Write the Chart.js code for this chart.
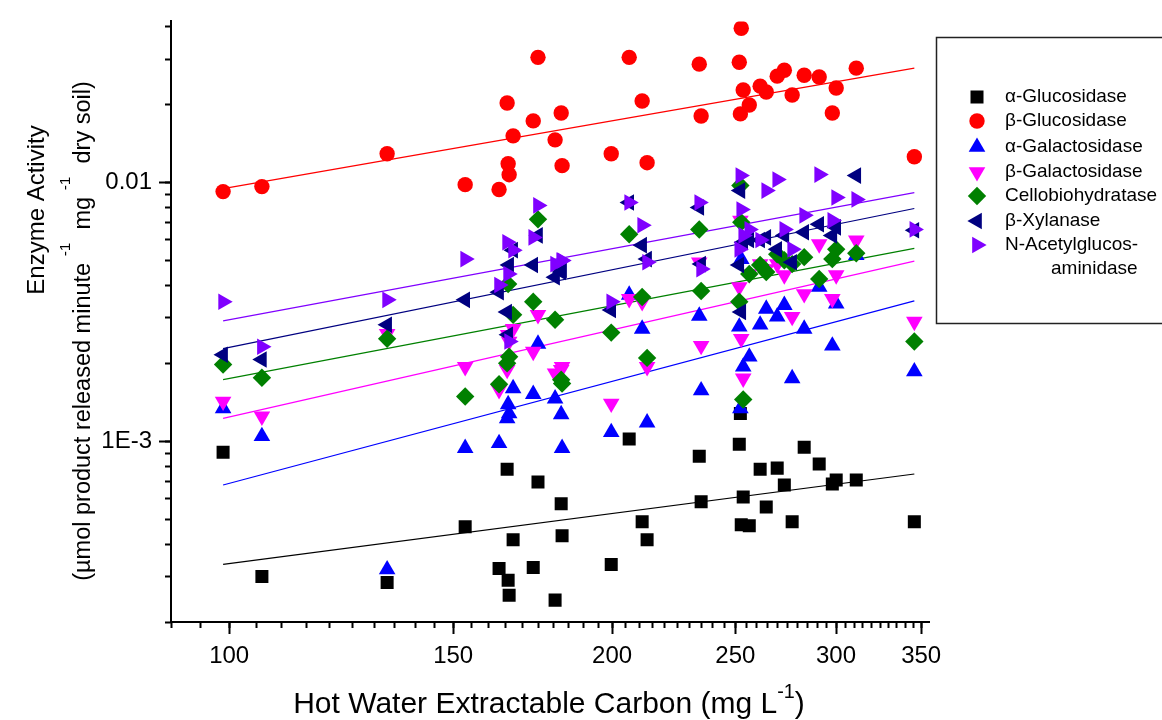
<!DOCTYPE html>
<html>
<head>
<meta charset="utf-8">
<script src="https://cdn.jsdelivr.net/npm/chart.js@4.4.1/dist/chart.umd.min.js"></script>
<style>
  html, body { margin: 0; padding: 0; background: #fff; }
  #wrap { width: 1162px; height: 720px; position: relative; }
</style>
</head>
<body>
<div id="wrap"><canvas id="Chart1"></canvas></div>
<script>
// hot water extractable carbon of each soil sample (mg L-1)
var hwec = [98.9, 106.1, 133.1, 153.3, 163.0, 165.4, 165.7, 166.0, 167.2, 173.4, 174.9, 180.4,
            182.4, 182.7, 199.7, 206.3, 211.2, 213.1, 234.2, 235.0, 251.8, 252.3, 252.7, 253.6,
            256.4, 261.5, 264.4, 269.7, 273.2, 277.1, 283.2, 291.0, 298.0, 300.1, 311.2, 345.7];

// enzyme activities, same sample order
var alphaGlucosidase = [0.000907, 0.000300, 0.000284, 0.000467, 0.000322, 0.000780, 0.000290, 0.000254, 0.000416,
                        0.000325, 0.000695, 0.000243, 0.000573, 0.000431, 0.000334, 0.00102, 0.000488, 0.000416,
                        0.000875, 0.000583, 0.000974, 0.00128, 0.000475, 0.000609, 0.000471, 0.000780, 0.000557,
                        0.000787, 0.000677, 0.000488, 0.000948, 0.000816, 0.000684, 0.000708, 0.000708, 0.000488];
var betaGlucosidase = [0.00923, 0.00965, 0.01292, 0.00982, 0.00940, 0.0203, 0.01183, 0.01073, 0.01516,
                       0.01732, 0.0305, 0.01463, 0.01858, 0.01163, 0.01292, 0.0305, 0.02067, 0.01194,
                       0.0287, 0.01810, 0.0292, 0.01843, 0.0395, 0.0228, 0.01995, 0.0236, 0.02239,
                       0.0258, 0.0272, 0.0218, 0.0260, 0.0256, 0.01858, 0.0232, 0.0277, 0.01259];
var alphaGalactosidase = [0.00134, 0.001045, 0.000319, 0.000940, 0.000982, 0.001226, 0.001388, 0.00128, 0.0016,
                          0.00152, 0.00238, 0.00146, 0.00127, 0.00094, 0.001083, 0.00368, 0.00272, 0.00118,
                          0.00305, 0.00157, 0.00277, 0.00134, 0.00506, 0.00194, 0.00212, 0.00282, 0.00325,
                          0.00303, 0.00336, 0.00175, 0.00272, 0.00395, 0.00234, 0.0034, 0.00524, 0.00186];
var betaGalactosidase = [0.001425, 0.001248, 0.0026, 0.00194, 0.00158, 0.00189, 0.00258, 0.00243, 0.00272,
                         0.00222, 0.00308, 0.00183, 0.00189, 0.00194, 0.0014, 0.00355, 0.00346, 0.00194,
                         0.00492, 0.00234, 0.00395, 0.00714, 0.00249, 0.00175, 0.00443, 0.00484, 0.00463,
                         0.00484, 0.00439, 0.00303, 0.00371, 0.00578, 0.00355, 0.00439, 0.00598, 0.0029];
var cellobiohydratase = [0.00198, 0.00176, 0.00249, 0.00149, 0.00166, 0.0020, 0.00405, 0.00212, 0.00308,
                         0.00346, 0.00721, 0.00295, 0.00173, 0.00167, 0.00263, 0.00631, 0.00361, 0.0021,
                         0.00659, 0.00381, 0.00346, 0.00974, 0.00702, 0.00145, 0.00443, 0.0048, 0.00451,
                         0.00528, 0.00501, 0.00484, 0.00515, 0.00424, 0.00506, 0.00552, 0.00533, 0.00243];
var betaXylanase = [0.00216, 0.00207, 0.00282, 0.00352, 0.00377, 0.00316, 0.00258, 0.0048, 0.00548,
                    0.0048, 0.00625, 0.00431, 0.00451, 0.00459, 0.00322, 0.00838, 0.00573, 0.00506,
                    0.00801, 0.00484, 0.0048, 0.00931, 0.00316, 0.00588, 0.0060, 0.0060, 0.00614,
                    0.00552, 0.00625, 0.00492, 0.00643, 0.0069, 0.00625, 0.00671, 0.01064, 0.00654];
var nAcetylglucosaminidase = [0.00346, 0.00232, 0.00352, 0.00506, 0.00402, 0.00588, 0.00443, 0.00243, 0.00548,
                              0.00614, 0.00816, 0.00484, 0.0050, 0.0050, 0.00346, 0.00838, 0.00684, 0.00492,
                              0.00838, 0.00463, 0.00552, 0.01064, 0.00787, 0.00625, 0.00659, 0.0060, 0.00931,
                              0.01027, 0.00659, 0.00552, 0.00747, 0.01074, 0.00714, 0.00876, 0.00861, 0.00659];

// power-law fit lines, value at first and last sample
var fitX = [98.9, 345.7];
var fitAlphaGlu = [0.000334, 0.000747];
var fitBetaGlu = [0.00948, 0.0277];
var fitAlphaGal = [0.000677, 0.00349];
var fitBetaGal = [0.001226, 0.00497];
var fitCello = [0.00173, 0.00557];
var fitXyl = [0.00228, 0.00794];
var fitNag = [0.00292, 0.00915];

var xTickLabels = [100, 150, 200, 250, 300, 350];
var yTickValues = [0.001, 0.01];
var yTickLabels = ['1E-3', '0.01'];

var FONT = "'Liberation Sans', Arial, sans-serif";

// minor tick positions
var xMinor = [];
for (var v = 90; v <= 350; v += 5) xMinor.push(v);
var yMinor = [];
[0.0001, 0.001, 0.01].forEach(function(d) {
    for (var m = 1; m <= 9; m++) {
        var t = m * d;
        if (t >= 0.0002 && t <= 0.042) yMinor.push(t);
    }
});

function pts(arr) {
    return hwec.map(function(x, i) { return {x: x, y: arr[i]}; });
}
function fitPts(arr) {
    return [{x: fitX[0], y: arr[0]}, {x: fitX[1], y: arr[1]}];
}

var series = [
    {label: '\u03b1-Glucosidase', data: alphaGlucosidase, fit: fitAlphaGlu, color: '#000000', style: 'rect', r: 9.2, rot: 0},
    {label: '\u03b2-Glucosidase', data: betaGlucosidase, fit: fitBetaGlu, color: '#ff0000', style: 'circle', r: 7.7, rot: 0},
    {label: '\u03b1-Galactosidase', data: alphaGalactosidase, fit: fitAlphaGal, color: '#0000ff', style: 'triangle', r: 9.6, rot: 0},
    {label: '\u03b2-Galactosidase', data: betaGalactosidase, fit: fitBetaGal, color: '#ff00ff', style: 'triangle', r: 9.6, rot: 180},
    {label: 'Cellobiohydratase', data: cellobiohydratase, fit: fitCello, color: '#008000', style: 'rectRot', r: 9.2, rot: 0},
    {label: '\u03b2-Xylanase', data: betaXylanase, fit: fitXyl, color: '#000080', style: 'triangle', r: 9.6, rot: 270},
    {label: 'N-Acetylglucos-', data: nAcetylglucosaminidase, fit: fitNag, color: '#8000ff', style: 'triangle', r: 9.6, rot: 90}
];

var datasets = [];
series.forEach(function(s, i) {
    datasets.push({
        label: s.label,
        data: pts(s.data),
        pointStyle: s.style,
        pointRadius: s.r,
        pointHoverRadius: s.r,
        pointRotation: s.rot,
        backgroundColor: s.color,
        borderColor: s.color,
        pointBorderWidth: 0,
        order: 10 - i
    });
    datasets.push({
        label: s.label + ' fit',
        data: fitPts(s.fit),
        showLine: true,
        pointRadius: 0,
        borderColor: s.color,
        borderWidth: 1.2,
        order: 100 - i
    });
});

// draws text made of normal and superscript runs
function drawRuns(ctx, runs, size, cx, cy, raise) {
    var sup = size * 0.66;
    var w = 0;
    runs.forEach(function(r) {
        ctx.font = (r[1] ? sup : size) + 'px ' + FONT;
        w += ctx.measureText(r[0]).width;
    });
    var x = cx - w / 2;
    ctx.textBaseline = 'alphabetic';
    ctx.textAlign = 'left';
    runs.forEach(function(r) {
        ctx.font = (r[1] ? sup : size) + 'px ' + FONT;
        ctx.fillText(r[0], x, r[1] ? cy - size * raise : cy);
        x += ctx.measureText(r[0]).width;
    });
}

var decorations = {
    id: 'decorations',
    afterDraw: function(chart) {
        var ctx = chart.ctx;
        ctx.save();
        ctx.fillStyle = '#000';

        // axis titles
        drawRuns(ctx, [['Hot Water Extractable Carbon (mg L', 0], ['-1', 1], [')', 0]], 30, 549, 713, 0.5);

        ctx.save();
        ctx.translate(44, 210);
        ctx.rotate(-Math.PI / 2);
        drawRuns(ctx, [['Enzyme Activity', 0]], 24, 0, 0, 0);
        ctx.restore();

        ctx.save();
        ctx.translate(90, 331);
        ctx.rotate(-Math.PI / 2);
        drawRuns(ctx, [['(\u00b5mol product released minute ', 0], ['-1', 1], ['  mg ', 0], ['-1', 1], ['  dry soil)', 0]], 23.5, 0, 0, 0.85);
        ctx.restore();

        // legend box
        ctx.strokeStyle = '#222';
        ctx.lineWidth = 1.5;
        ctx.strokeRect(936.5, 37.5, 240, 286);

        var rows = [97, 121, 147, 172, 196, 221, 245];
        ctx.font = '19px ' + FONT;
        ctx.textBaseline = 'middle';
        ctx.textAlign = 'left';
        series.forEach(function(s, i) {
            ctx.fillStyle = s.color;
            Chart.helpers.drawPoint(ctx, {pointStyle: s.style, radius: s.r, rotation: s.rot, borderWidth: 0}, 977, rows[i]);
            ctx.fillStyle = '#000';
            ctx.fillText(s.label, 1005, rows[i]);
        });
        ctx.fillText('aminidase', 1051, 269);
        ctx.restore();
    }
};

var tickFont = {size: 24, family: FONT};

var ctx = document.getElementById('Chart1').getContext('2d');
var myChart = new Chart(ctx, {
    type: 'scatter',
    data: { datasets: datasets },
    plugins: [decorations],
    options: {
        responsive: true,
        maintainAspectRatio: false,
        animation: false,
        layout: { padding: { left: 71, right: 233, top: 18, bottom: 38 } },
        plugins: {
            legend: { display: false },
            tooltip: { enabled: false }
        },
        scales: {
            x: {
                type: 'logarithmic', position: 'bottom', min: 90, max: 355, bounds: 'data', weight: 1,
                afterBuildTicks: function(s) { s.ticks = xTickLabels.map(function(v) { return {value: v}; }); },
                afterFit: function(s) { s.height = 60; },
                ticks: { autoSkip: false, maxRotation: 0, color: '#000', font: tickFont, padding: 8,
                         callback: function(v) { return String(v); } },
                grid: { display: true, drawOnChartArea: false, drawTicks: true, tickLength: 12, tickWidth: 2, tickColor: '#000' },
                border: { display: true, color: '#000', width: 2 }
            },
            xm: {
                type: 'logarithmic', position: 'bottom', min: 90, max: 355, bounds: 'data', weight: 0,
                afterBuildTicks: function(s) { s.ticks = xMinor.map(function(v) { return {value: v}; }); },
                afterFit: function(s) { s.height = 0; },
                ticks: { display: false, autoSkip: false },
                grid: { display: true, drawOnChartArea: false, drawTicks: true, tickLength: 6, tickWidth: 2, tickColor: '#000' },
                border: { display: false }
            },
            y: {
                type: 'logarithmic', position: 'left', min: 0.0002, max: 0.042, bounds: 'data', weight: 1,
                afterBuildTicks: function(s) { s.ticks = yTickValues.map(function(v) { return {value: v}; }); },
                afterFit: function(s) { s.width = 100; },
                ticks: { autoSkip: false, color: '#000', font: tickFont, padding: 7,
                         callback: function(v) { return yTickLabels[yTickValues.indexOf(v)]; } },
                grid: { display: true, drawOnChartArea: false, drawTicks: true, tickLength: 12, tickWidth: 2, tickColor: '#000' },
                border: { display: true, color: '#000', width: 2 }
            },
            ym: {
                type: 'logarithmic', position: 'left', min: 0.0002, max: 0.042, bounds: 'data', weight: 0,
                afterBuildTicks: function(s) { s.ticks = yMinor.map(function(v) { return {value: v}; }); },
                afterFit: function(s) { s.width = 0; },
                ticks: { display: false, autoSkip: false },
                grid: { display: true, drawOnChartArea: false, drawTicks: true, tickLength: 6, tickWidth: 2, tickColor: '#000' },
                border: { display: false }
            }
        }
    }
});
</script>
</body>
</html>
